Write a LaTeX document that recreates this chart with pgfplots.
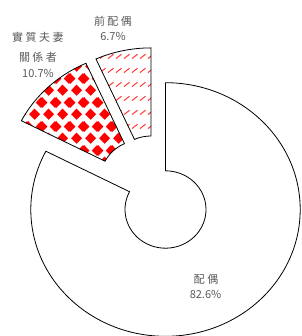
\documentclass[border=0pt]{standalone}
\usepackage{pgfplots}
\pgfplotsset{compat=1.18}
\usepackage{pgfplotstable}
\usetikzlibrary{patterns.meta}
\usepackage{fontspec}
\setmainfont{Noto Sans CJK TC}
\definecolor{labelgray}{HTML}{595959}

\pgfplotstableread{
slice value
spouse 82.6
cohab 10.7
former 6.7
}\piedata
\pgfplotstablegetelem{0}{value}\of\piedata \let\vA\pgfplotsretval
\pgfplotstablegetelem{1}{value}\of\piedata \let\vB\pgfplotsretval
\pgfplotstablegetelem{2}{value}\of\piedata \let\vC\pgfplotsretval
\pgfmathsetmacro{\aA}{90-3.6*\vA}
\pgfmathsetmacro{\aB}{\aA-3.6*\vB}
\pgfmathsetmacro{\aC}{\aB-3.6*\vC}

\def\cx{165.5}\def\cy{-209.5}
\def\Rx{134.7}\def\Ry{126.8}
\def\rx{40.5}\def\ry{38.7}

\tikzdeclarepattern{
  name=redchecker,
  type=colored,
  bounding box={(0pt,0pt) and (14pt,24pt)},
  tile size={(14pt,24pt)},
  code={
    \fill[red] (7pt,0.2pt) -- (12.8pt,6pt) -- (7pt,11.8pt) -- (1.2pt,6pt) -- cycle;
    \fill[red] (0pt,12.2pt) -- (5.8pt,18pt) -- (0pt,23.8pt) -- (-5.8pt,18pt) -- cycle;
    \fill[red] (14pt,12.2pt) -- (19.8pt,18pt) -- (14pt,23.8pt) -- (8.2pt,18pt) -- cycle;
  }
}
\tikzdeclarepattern{
  name=reddash,
  type=colored,
  bounding box={(0pt,0pt) and (8.3pt,13.5pt)},
  tile size={(8.3pt,13.5pt)},
  code={
    \draw[red!75, line width=1.1pt] (1pt,4.5pt) -- (7pt,9pt);
  }
}

\newcommand{\donutslice}[5]{%
  \path[#5] (axis cs:{\cx+#3+\Rx*cos(#1)},{\cy+#4+\Ry*sin(#1)})
    arc[start angle=#1, end angle=#2, x radius=\Rx pt, y radius=\Ry pt]
    -- (axis cs:{\cx+#3+\rx*cos(#2)},{\cy+#4+\ry*sin(#2)})
    arc[start angle=#2, end angle=#1, x radius=\rx pt, y radius=\ry pt]
    -- cycle;}
\newcommand{\ls}{\hspace{2.5pt}}
\tikzset{lbl/.style={anchor=base, text=labelgray, inner sep=0pt, font=\fontsize{11}{13}\selectfont}}

\begin{document}
\begin{tikzpicture}
\begin{axis}[hide axis, scale only axis, width=301pt, height=336pt,
  xmin=0, xmax=301, ymin=-336, ymax=0]
\donutslice{90}{\aA}{0}{0}{fill=white, draw=black, line width=0.8pt}
\donutslice{\aA}{\aB}{-24.5}{30.5}{preaction={fill=white}, pattern=redchecker, draw=black, line width=0.8pt}
\donutslice{\aB}{\aC}{-14.5}{34.8}{preaction={fill=white}, pattern=reddash, draw=black, line width=0.8pt}
\node[lbl] at (axis cs:113,-25.5) {前\ls 配\ls 偶};
\node[lbl] at (axis cs:113,-41) {6.7\%};
\node[lbl] at (axis cs:38,-42) {實\ls 質\ls 夫\ls 妻};
\node[lbl] at (axis cs:38,-62) {關\ls 係\ls 者};
\node[lbl] at (axis cs:38,-78) {10.7\%};
\node[lbl] at (axis cs:206,-283.5) {配\ls 偶};
\node[lbl] at (axis cs:205.5,-299) {82.6\%};
\end{axis}
\pgfresetboundingbox
\path[use as bounding box] (current axis.south west) rectangle (current axis.north east);
\end{tikzpicture}
\end{document}
